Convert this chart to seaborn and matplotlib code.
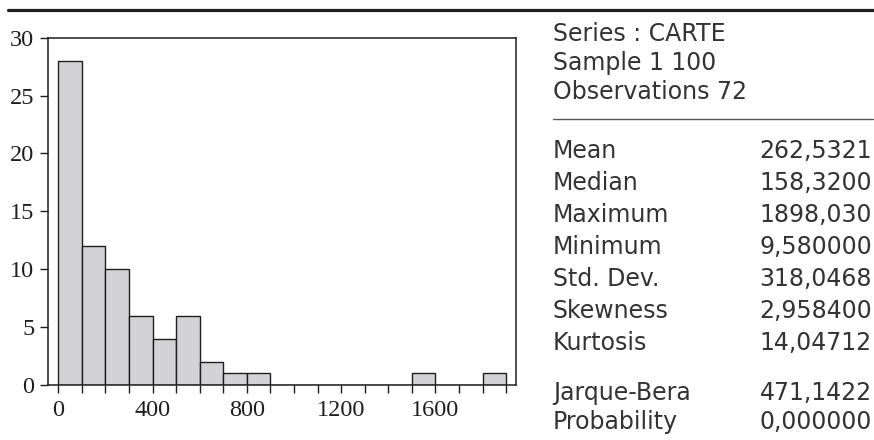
import matplotlib
matplotlib.use("Agg")
import matplotlib.pyplot as plt
from matplotlib.lines import Line2D
import seaborn as sns

# Histogram of CARTE: bin edges (width 100) and observation counts per bin
bin_edges = list(range(0, 2000, 100))
bin_counts = [28, 12, 10, 6, 4, 6, 2, 1, 1, 0, 0, 0, 0, 0, 0, 1, 0, 0, 1]

# Axis ticks
x_ticks = list(range(0, 2000, 100))
x_labelled = [0, 400, 800, 1200, 1600]
y_ticks = [0, 5, 10, 15, 20, 25, 30]

# Summary statistics panel
header_lines = ["Series : CARTE", "Sample 1 100", "Observations 72"]
stat_names = ["Mean", "Median", "Maximum", "Minimum", "Std. Dev.",
              "Skewness", "Kurtosis"]
stat_values = ["262,5321", "158,3200", "1898,030", "9,580000", "318,0468",
               "2,958400", "14,04712"]
test_names = ["Jarque-Bera", "Probability"]
test_values = ["471,1422", "0,000000"]

sns.set_style("ticks")

W, H = 874, 440
fig = plt.figure(figsize=(W / 100, H / 100), dpi=100)


def fx(px):
    return px / W


def fy(py):
    return 1 - py / H


ax = fig.add_axes([fx(47.5), fy(385), fx(516) - fx(47.5), fy(37.7) - fy(385)])

centers = [e + 50 for e in bin_edges[:-1]]
sns.histplot(x=centers, weights=bin_counts, bins=bin_edges, ax=ax,
             color="#d3d3d6", edgecolor="#1e1e1e", linewidth=1.0, alpha=1.0)

ax.set_xlim(-45.8, 1942)
ax.set_ylim(0, 30)
ax.set_xlabel("")
ax.set_ylabel("")

ax.set_xticks(x_ticks)
ax.set_xticklabels([str(t) if t in x_labelled else "" for t in x_ticks])
ax.set_yticks(y_ticks)
ax.set_yticklabels([str(t) for t in y_ticks])

for side in ["left", "right", "top", "bottom"]:
    ax.spines[side].set_visible(True)
    ax.spines[side].set_color("#1e1e1e")
    ax.spines[side].set_linewidth(1.1)

ax.tick_params(axis="both", direction="out", length=6, width=1.0,
               color="#1e1e1e", labelcolor="#1e1e1e", labelsize=17.5,
               top=False, right=False)
ax.tick_params(axis="x", pad=4.5)
ax.tick_params(axis="y", pad=3.5)
for lab in ax.get_xticklabels() + ax.get_yticklabels():
    lab.set_fontfamily("Liberation Serif")

# Rule across the top of the exhibit
fig.add_artist(Line2D([fx(8), fx(874)], [fy(10.5), fy(10.5)], lw=2.3,
                      color="#1e1e1e"))

txt_kw = dict(fontsize=17, family="DejaVu Sans", color="#333333",
              va="baseline")
label_x = fx(553)
value_x = fx(872)

for i, line in enumerate(header_lines):
    fig.text(label_x, fy(41 + 29 * i), line, ha="left", **txt_kw)

# Separator under the header block
fig.add_artist(Line2D([fx(553), fx(873)], [fy(119), fy(119)], lw=1.0,
                      color="#555555"))

for i, (name, val) in enumerate(zip(stat_names, stat_values)):
    y = fy(158 + 32 * i)
    fig.text(label_x, y, name, ha="left", **txt_kw)
    fig.text(value_x, y, val, ha="right", **txt_kw)

for i, (name, val) in enumerate(zip(test_names, test_values)):
    y = fy(400 + 28.5 * i)
    fig.text(label_x, y, name, ha="left", **txt_kw)
    fig.text(value_x, y, val, ha="right", **txt_kw)

fig.savefig("out.png", dpi=100)
